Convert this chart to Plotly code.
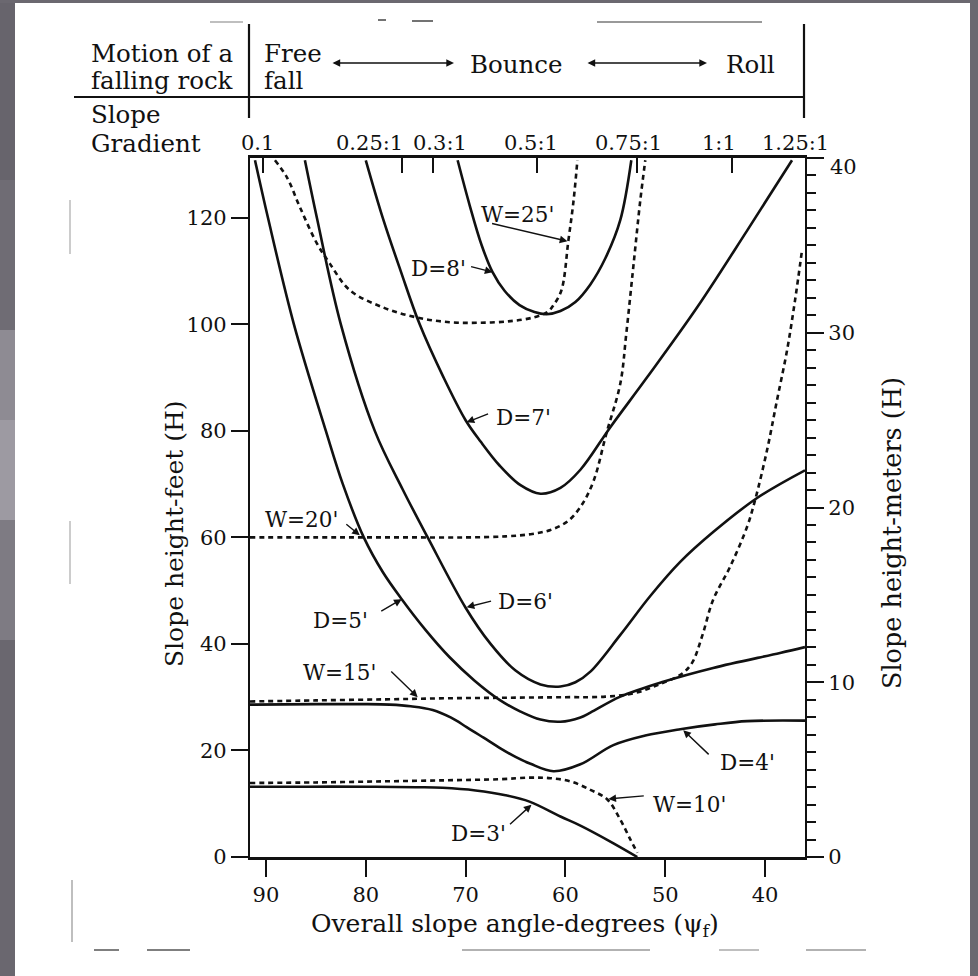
import plotly.graph_objects as go

# ---------------- data (angle in degrees, slope height in feet) ----------------
d3_ang = [91.6, 86, 80, 75, 72.3, 69, 66, 63.6, 60.5, 58.5, 55.5, 52.8]
d3_h = [13.2, 13.2, 13.2, 13.1, 13.0, 12.5, 11.6, 10.4, 7.6, 5.9, 2.9, 0.0]

w10_ang = [91.6, 85, 78.3, 72, 66.6, 63.5, 61.5, 59.5, 57.5, 55.8, 54.5, 53.5, 52.8]
w10_h = [13.9, 14.0, 14.2, 14.4, 14.6, 14.9, 14.8, 14.2, 12.6, 10.8, 7.0, 3.3, 0.8]

d4_ang = [91.6, 85, 80, 77.6, 75.5, 73.3, 71.5, 69.9, 68.2, 66.6, 65.0, 63.5, 61.2, 58.5, 55.2, 52.0, 48.5, 45, 41.8, 36.0]
d4_h = [28.6, 28.7, 28.7, 28.6, 28.3, 27.6, 26.2, 24.4, 22.4, 20.5, 18.8, 17.5, 16.1, 17.4, 21.0, 22.8, 24.0, 24.9, 25.5, 25.6]

w15_ang = [91.6, 85, 78, 72, 66, 60, 56, 53, 50.5, 48.4, 47.3, 46.3, 45.2, 43.5, 41.8, 41.0, 39.8, 38.8, 37.8, 37.0, 36.3]
w15_h = [29.2, 29.4, 29.6, 29.8, 29.9, 30.0, 30.1, 30.8, 32.5, 34.3, 36.5, 41.5, 48.3, 54.5, 62.0, 67.0, 76.4, 85.8, 95.1, 104.5, 113.9]

d5_ang = [91.1, 89.8, 87.2, 84.0, 82.3, 80.2, 78.3, 76.4, 74.0, 71.6, 69.1, 66.6, 64.5, 62.5, 60.5, 58.5, 57.5, 54.5, 50.2, 45.2, 38.5, 36.0]
d5_h = [130.8, 120, 100, 80, 70, 60, 53.5, 48.4, 42.6, 37.5, 33.1, 29.5, 27.3, 25.8, 25.4, 26.2, 27.1, 30.1, 32.9, 35.5, 38.3, 39.4]

d6_ang = [86.1, 84.9, 82.5, 79.1, 76.3, 73.8, 70.0, 67.5, 65.0, 62.5, 60.5, 59.0, 57.5, 54.5, 51.5, 48.5, 45.2, 40.8, 36.0]
d6_h = [130.8, 120, 100, 80, 69, 60, 46.8, 40.0, 35.0, 32.4, 32.0, 32.8, 34.8, 41.7, 49.0, 55.4, 61.0, 67.4, 72.6]

d7_ang = [80.0, 78.3, 76.5, 74.6, 72.2, 70.0, 68.5, 66.6, 64.5, 62.5, 60.5, 58.5, 55.5, 51.8, 46.8, 41.8, 37.3]
d7_h = [130.8, 120, 110, 100, 90, 82, 78, 73.5, 69.8, 68.2, 69.3, 72.7, 80.7, 90.1, 103.2, 117.6, 130.8]

d8_ang = [70.8, 69.6, 68.4, 67.3, 66.1, 64.6, 63.1, 61.9, 60.5, 59.0, 57.5, 56.0, 54.5, 53.4]
d8_h = [130.8, 122.4, 114.9, 109.8, 106.3, 103.6, 102.3, 101.9, 102.5, 104.2, 107.5, 112.4, 119.6, 130.8]

w20_ang = [91.6, 85, 80, 75, 70, 66, 63.5, 61.5, 59.8, 58.5, 57.2, 55.9, 54.5, 53.9, 53.2, 52.5, 52.0]
w20_h = [60, 60, 60, 60, 60, 60.2, 60.6, 61.4, 63.0, 65.7, 70.5, 79.5, 88.9, 98.3, 110.8, 123.3, 130.8]

w25_ang = [89.1, 87.9, 86.6, 84.9, 83.6, 81.6, 78.3, 74.9, 71.6, 68.6, 65.5, 63.2, 61.8, 61.2, 60.4, 59.7, 59.2, 58.8]
w25_h = [130.8, 127.6, 122, 115.2, 111.4, 106.4, 103.2, 101.3, 100.4, 100.3, 100.6, 101.3, 102.3, 103.6, 106.4, 115.8, 123, 130.8]

x_ticks = [90, 80, 70, 60, 50, 40]
ft_ticks = [0, 20, 40, 60, 80, 100, 120]
m_ticks = [0, 10, 20, 30, 40]
m_ticktext = ["0", "10", "20", "30", ""]
grad_tick_angles = [90.3, 76.4, 73.3, 62.8, 52.8, 43.3]
grad_labels = ["0.1", "0.25:1", "0.3:1", "0.5:1", "0.75:1", "1:1", "1.25:1"]
grad_label_angles = [90.8, 79.6, 72.6, 63.4, 53.7, 44.6, 37.0]

curves = [
    (d3_ang, d3_h, "solid"), (w10_ang, w10_h, "dot"),
    (d4_ang, d4_h, "solid"), (w15_ang, w15_h, "dot"),
    (d5_ang, d5_h, "solid"), (d6_ang, d6_h, "solid"),
    (d7_ang, d7_h, "solid"), (d8_ang, d8_h, "solid"),
    (w20_ang, w20_h, "dot"), (w25_ang, w25_h, "dot"),
]

# curve labels: text, text position (deg, ft), arrow tail (deg, ft), arrow tip (deg, ft)
labels = [
    ("W=25'", (64.85, 120.6), (67.5, 119.0), (59.8, 115.6)),
    ("D=8'", (72.7, 110.4), (69.6, 110.9), (67.3, 109.8)),
    ("D=7'", (64.25, 82.6), (67.6, 83.3), (69.9, 81.6)),
    ("W=20'", (86.4, 63.3), (82.1, 62.7), (80.6, 60.4)),
    ("D=5'", (82.5, 44.4), (78.6, 46.0), (76.4, 48.4)),
    ("D=6'", (64.05, 47.9), (67.3, 48.1), (69.9, 46.9)),
    ("W=15'", (82.6, 34.6), (77.6, 35.1), (74.8, 30.0)),
    ("D=4'", (41.8, 17.7), (45.5, 19.0), (48.2, 23.8)),
    ("W=10'", (47.6, 9.8), (52.0, 11.5), (55.7, 10.9)),
    ("D=3'", (68.7, 4.4), (65.7, 5.9), (63.4, 9.8)),
]

FONT = "DejaVu Serif"
W, H = 978, 976
L, R, T, B = 250, 805, 158, 857
XR = [91.6, 36.0]
YR = [0, 131.23]


def px(p):
    return (p - L) / (R - L)


def py(p):
    return (B - p) / (B - T)


fig = go.Figure()
for xs, ys, dash in curves:
    fig.add_trace(go.Scatter(
        x=xs, y=ys, mode="lines", showlegend=False, hoverinfo="skip",
        line=dict(color="#111", width=2.6, shape="spline", smoothing=1.0,
                  dash="solid" if dash == "solid" else "5px,4px")))

# invisible trace to activate secondary axes
fig.add_trace(go.Scatter(x=XR, y=[0, 40], xaxis="x2", yaxis="y2", mode="markers",
                         marker=dict(opacity=0), showlegend=False, hoverinfo="skip"))

ann = []
for text, (tx, ty), (ax, ay), (hx, hy) in labels:
    ann.append(dict(x=tx, y=ty, xref="x", yref="y", text=text, showarrow=False,
                    xanchor="center", yanchor="middle",
                    font=dict(family=FONT, size=21.5, color="#111")))
    ann.append(dict(x=hx, y=hy, ax=ax, ay=ay, xref="x", yref="y", axref="x", ayref="y",
                    text="", showarrow=True, arrowhead=2, arrowsize=1.1, arrowwidth=1.4,
                    arrowcolor="#111", standoff=0, startstandoff=0))

# gradient labels on top
for lab, a in zip(grad_labels, grad_label_angles):
    ann.append(dict(x=a, y=py(143), xref="x", yref="paper", text=lab, showarrow=False,
                    xanchor="center", yanchor="middle",
                    font=dict(family=FONT, size=21, color="#111")))

# top label of the metre axis (sits just under the corner)
ann.append(dict(x=px(828), y=py(167), xref="paper", yref="paper", text="40", showarrow=False,
                xanchor="left", yanchor="middle", font=dict(family=FONT, size=21, color="#111")))

# header texts
hdr = [
    ("Motion of a", 89, 53, "left"), ("falling rock", 89, 81, "left"),
    ("Free", 262, 53, "left"), ("fall", 262, 81, "left"),
    ("Bounce", 516, 64, "center"), ("Roll", 750, 64, "center"),
    ("Slope", 89, 114, "left"), ("Gradient", 89, 143, "left"),
]
for t, x, y, anc in hdr:
    ann.append(dict(x=px(x), y=py(y), xref="paper", yref="paper", text=t, showarrow=False,
                    xanchor=anc, yanchor="middle", font=dict(family=FONT, size=24.5, color="#111")))

# double-headed arrows in header
for x0, x1 in [(331, 454), (586, 707)]:
    ann.append(dict(x=px(x1), y=py(63), xref="paper", yref="paper", ax=-(x1 - x0), ay=0,
                    text="", showarrow=True, arrowhead=2, startarrowhead=2, arrowside="end+start",
                    arrowsize=1.1, arrowwidth=1.4, arrowcolor="#111", standoff=0, startstandoff=0))

# axis titles
ann.append(dict(x=px(174), y=py(534), xref="paper", yref="paper", text="Slope height-feet (H)",
                textangle=-90, showarrow=False, xanchor="center", yanchor="middle",
                font=dict(family=FONT, size=25, color="#111")))
ann.append(dict(x=px(892), y=py(533), xref="paper", yref="paper", text="Slope height-meters (H)",
                textangle=-90, showarrow=False, xanchor="center", yanchor="middle",
                font=dict(family=FONT, size=25.5, color="#111")))
ann.append(dict(x=px(515), y=py(925), xref="paper", yref="paper",
                text="Overall slope angle-degrees (ψ<sub>f</sub>)", xanchor="center", yanchor="middle",
                showarrow=False, font=dict(family=FONT, size=25, color="#111")))

shapes = []
# header lines
for (x0, y0, x1, y1) in [(74, 97, 805, 97), (249, 24, 249, 118), (804, 24, 804, 118)]:
    shapes.append(dict(type="line", xref="paper", yref="paper", x0=px(x0), y0=py(y0),
                       x1=px(x1), y1=py(y1), line=dict(color="#111", width=2.2)))

# gray frame of the photo
bands = [(0, 180, "#67646c"), (180, 330, "#6f6c74"), (330, 420, "#8e8b93"),
         (420, 520, "#9d9aa2"), (520, 640, "#7e7b83"), (640, 976, "#6a676f")]
for y0, y1, c in bands:
    shapes.append(dict(type="rect", xref="paper", yref="paper", x0=px(0), x1=px(15),
                       y0=py(y1), y1=py(y0), fillcolor=c, line=dict(width=0), layer="below"))
shapes.append(dict(type="rect", xref="paper", yref="paper", x0=px(0), x1=px(978),
                   y0=py(3), y1=py(0), fillcolor="#6b6870", line=dict(width=0), layer="below"))
shapes.append(dict(type="rect", xref="paper", yref="paper", x0=px(970), x1=px(978),
                   y0=py(976), y1=py(0), fillcolor="#6b6870", line=dict(width=0), layer="below"))

# faint scan marks
marks = [(378, 20, 386, 20, "#444"), (412, 21, 433, 21, "#444"), (597, 22, 762, 22, "#777"),
         (210, 22, 243, 22, "#aaa"), (94, 950, 119, 950, "#555"), (147, 950, 190, 950, "#555"),
         (462, 950, 650, 950, "#999"), (719, 950, 759, 950, "#aaa"), (806, 950, 866, 950, "#999"),
         (72, 880, 72, 942, "#aaa"), (70, 200, 70, 254, "#bbb"), (70, 521, 70, 584, "#bbb")]
for x0, y0, x1, y1, c in marks:
    shapes.append(dict(type="line", xref="paper", yref="paper", x0=px(x0), y0=py(y0),
                       x1=px(x1), y1=py(y1), line=dict(color=c, width=1.5)))

axis_common = dict(showgrid=False, zeroline=False, showline=True, linecolor="#111",
                   tickcolor="#111", tickfont=dict(family=FONT, size=21, color="#111"))

fig.update_layout(
    width=W, height=H, margin=dict(l=L, r=W - R, t=T, b=H - B),
    paper_bgcolor="white", plot_bgcolor="white", showlegend=False,
    font=dict(family=FONT, color="#111"),
    xaxis=dict(range=XR, tickvals=x_ticks, ticks="outside", ticklen=17, tickwidth=2,
               linewidth=2.5, **axis_common),
    xaxis2=dict(range=XR, overlaying="x", side="top", tickvals=grad_tick_angles,
                ticks="inside", ticklen=15, tickwidth=1.6, showticklabels=False,
                linewidth=2.5, anchor="y", **axis_common),
    yaxis=dict(range=YR, tickvals=ft_ticks, ticks="outside", ticklen=17, tickwidth=2,
               linewidth=2.2, **axis_common),
    yaxis2=dict(range=[0, 40], overlaying="y", side="right", anchor="x", tickvals=m_ticks,
                ticktext=m_ticktext,
                ticks="outside", ticklen=17, tickwidth=2, linewidth=2.2,
                minor=dict(tickmode="linear", tick0=0, dtick=1, ticks="outside",
                           ticklen=9, tickwidth=1.5, tickcolor="#111"),
                **axis_common),
    annotations=ann, shapes=shapes,
)

fig.write_html("out.html")
